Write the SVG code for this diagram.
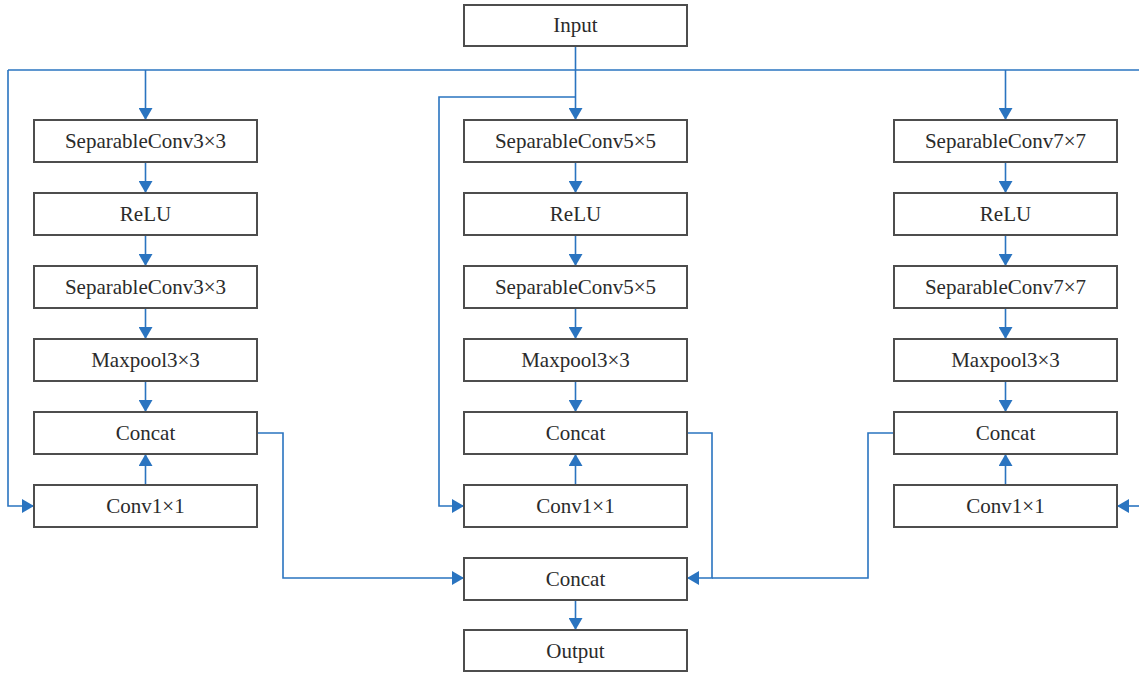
<svg xmlns="http://www.w3.org/2000/svg" width="1139" height="673" viewBox="0 0 1139 673">
<style>
.box rect{fill:#fff;stroke:#4d4d4d;stroke-width:2}
.box text{font-family:"Liberation Serif","Times New Roman",serif;font-size:21px;fill:#2b2b2b;text-anchor:middle}
.conn path{fill:none;stroke:#2a74c0;stroke-width:1.6}
</style>
<defs>
<marker id="ah" viewBox="0 0 12 14" refX="12" refY="7" markerWidth="12" markerHeight="14" markerUnits="userSpaceOnUse" orient="auto">
<path d="M0,0 L12,7 L0,14 z" fill="#2a74c0"/>
</marker>
</defs>
<rect width="1139" height="673" fill="#fff"/>
<g class="conn">
<path d="M8,70 H1139"/>
<path d="M575.5,46 V120" marker-end="url(#ah)"/>
<path d="M8,70 V506 H34" marker-end="url(#ah)"/>
<path d="M145.5,70 V120" marker-end="url(#ah)"/>
<path d="M1005.5,70 V120" marker-end="url(#ah)"/>
<path d="M575.5,97 H439 V506 H464" marker-end="url(#ah)"/>
<path d="M1139,506 H1117" marker-end="url(#ah)"/>
<path d="M145.5,162 V193" marker-end="url(#ah)"/>
<path d="M145.5,235 V266" marker-end="url(#ah)"/>
<path d="M145.5,308 V339" marker-end="url(#ah)"/>
<path d="M145.5,381 V412" marker-end="url(#ah)"/>
<path d="M145.5,485 V454" marker-end="url(#ah)"/>
<path d="M575.5,162 V193" marker-end="url(#ah)"/>
<path d="M575.5,235 V266" marker-end="url(#ah)"/>
<path d="M575.5,308 V339" marker-end="url(#ah)"/>
<path d="M575.5,381 V412" marker-end="url(#ah)"/>
<path d="M575.5,485 V454" marker-end="url(#ah)"/>
<path d="M1005.5,162 V193" marker-end="url(#ah)"/>
<path d="M1005.5,235 V266" marker-end="url(#ah)"/>
<path d="M1005.5,308 V339" marker-end="url(#ah)"/>
<path d="M1005.5,381 V412" marker-end="url(#ah)"/>
<path d="M1005.5,485 V454" marker-end="url(#ah)"/>
<path d="M257,433 H283 V578 H464" marker-end="url(#ah)"/>
<path d="M687,433 H712 V578 H687" marker-end="url(#ah)"/>
<path d="M894,433 H868 V578 H712"/>
<path d="M575.5,600 V630" marker-end="url(#ah)"/>
</g>
<g id="input" class="box"><rect x="464" y="5" width="223" height="41"/><text x="575.5" y="32">Input</text></g>
<g id="l-sep1" class="box"><rect x="34" y="120" width="223" height="42"/><text x="145.5" y="148">SeparableConv3×3</text></g>
<g id="l-relu" class="box"><rect x="34" y="193" width="223" height="42"/><text x="145.5" y="221">ReLU</text></g>
<g id="l-sep2" class="box"><rect x="34" y="266" width="223" height="42"/><text x="145.5" y="294">SeparableConv3×3</text></g>
<g id="l-pool" class="box"><rect x="34" y="339" width="223" height="42"/><text x="145.5" y="367">Maxpool3×3</text></g>
<g id="l-concat" class="box"><rect x="34" y="412" width="223" height="42"/><text x="145.5" y="440">Concat</text></g>
<g id="l-conv" class="box"><rect x="34" y="485" width="223" height="42"/><text x="145.5" y="513">Conv1×1</text></g>
<g id="m-sep1" class="box"><rect x="464" y="120" width="223" height="42"/><text x="575.5" y="148">SeparableConv5×5</text></g>
<g id="m-relu" class="box"><rect x="464" y="193" width="223" height="42"/><text x="575.5" y="221">ReLU</text></g>
<g id="m-sep2" class="box"><rect x="464" y="266" width="223" height="42"/><text x="575.5" y="294">SeparableConv5×5</text></g>
<g id="m-pool" class="box"><rect x="464" y="339" width="223" height="42"/><text x="575.5" y="367">Maxpool3×3</text></g>
<g id="m-concat" class="box"><rect x="464" y="412" width="223" height="42"/><text x="575.5" y="440">Concat</text></g>
<g id="m-conv" class="box"><rect x="464" y="485" width="223" height="42"/><text x="575.5" y="513">Conv1×1</text></g>
<g id="r-sep1" class="box"><rect x="894" y="120" width="223" height="42"/><text x="1005.5" y="148">SeparableConv7×7</text></g>
<g id="r-relu" class="box"><rect x="894" y="193" width="223" height="42"/><text x="1005.5" y="221">ReLU</text></g>
<g id="r-sep2" class="box"><rect x="894" y="266" width="223" height="42"/><text x="1005.5" y="294">SeparableConv7×7</text></g>
<g id="r-pool" class="box"><rect x="894" y="339" width="223" height="42"/><text x="1005.5" y="367">Maxpool3×3</text></g>
<g id="r-concat" class="box"><rect x="894" y="412" width="223" height="42"/><text x="1005.5" y="440">Concat</text></g>
<g id="r-conv" class="box"><rect x="894" y="485" width="223" height="42"/><text x="1005.5" y="513">Conv1×1</text></g>
<g id="final-concat" class="box"><rect x="464" y="558" width="223" height="42"/><text x="575.5" y="586">Concat</text></g>
<g id="output" class="box"><rect x="464" y="630" width="223" height="41"/><text x="575.5" y="658">Output</text></g>
</svg>
